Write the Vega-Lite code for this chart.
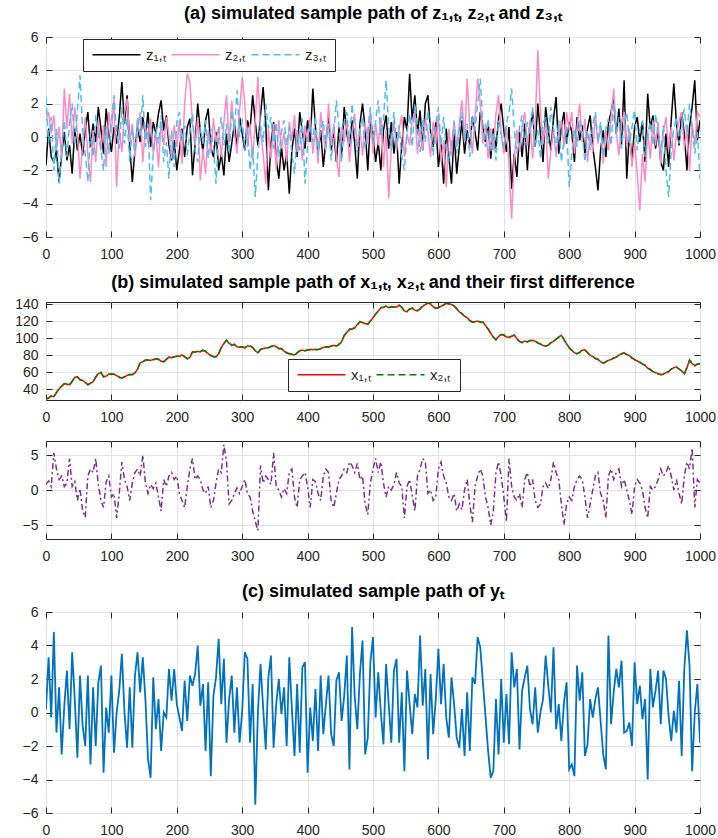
{
"$schema":"https://vega.github.io/schema/vega-lite/v6.json",
"padding":{"left":5,"top":4,"right":2,"bottom":0},
"spacing":18,
"resolve":{"scale":{"color":"independent","strokeDash":"independent"},"legend":{"color":"independent","strokeDash":"independent"}},
"config":{
 "font":"Liberation Sans",
 "view":{"stroke":"#262626","strokeWidth":1},
 "axis":{"domain":false,"gridColor":"#e2e2e2","gridWidth":1,"tickColor":"#262626","tickSize":-6,"labelFontSize":14,"labelColor":"#262626","title":null,"labelFont":"Liberation Sans"},
 "axisX":{"labelPadding":16,"labelFlush":false,"labelOverlap":false,"format":"d"},
 "axisY":{"labelPadding":14,"minExtent":40,"maxExtent":40,"labelOverlap":false},
 "title":{"fontSize":18,"fontWeight":"bold","color":"#000000","frame":"group","anchor":"middle","offset":7},
 "legend":{"title":null,"orient":"none","direction":"horizontal","fillColor":"white","strokeColor":"#262626","padding":8,"symbolType":"M-1,0H7","symbolSize":144,"symbolStrokeWidth":1.5,"labelFontSize":15,"labelColor":"#262626","labelOffset":40,"columnPadding":1}
},
"datasets":{"s":[
{"t":0,"a":-1.7,"b":1.0,"c":2.4,"x":28.5,"w":28.8,"d":0.8,"y":0.2},
{"t":4,"a":0.5,"b":1.5,"c":-0.3,"x":30.0,"w":29.6,"d":1.3,"y":3.3},
{"t":8,"a":-1.2,"b":0.2,"c":1.2,"x":32.0,"w":32.7,"d":0.5,"y":-0.3},
{"t":12,"a":-1.5,"b":1.3,"c":-2.0,"x":31.5,"w":31.0,"d":5.3,"y":4.8},
{"t":16,"a":-0.8,"b":-0.8,"c":0.5,"x":36.0,"w":36.4,"d":3.0,"y":-1.2},
{"t":20,"a":-2.7,"b":0.6,"c":-2.8,"x":40.5,"w":41.2,"d":1.5,"y":1.5},
{"t":24,"a":-1.0,"b":-1.3,"c":-0.6,"x":44.0,"w":43.5,"d":2.0,"y":-2.5},
{"t":28,"a":0.3,"b":2.9,"c":1.0,"x":46.5,"w":46.9,"d":0.5,"y":0.4},
{"t":32,"a":-1.4,"b":0.5,"c":-1.2,"x":46.0,"w":46.6,"d":1.0,"y":2.5},
{"t":36,"a":-0.5,"b":2.6,"c":0.8,"x":45.5,"w":45.0,"d":4.5,"y":-1.0},
{"t":40,"a":-2.2,"b":-0.4,"c":2.0,"x":49.0,"w":49.5,"d":0.5,"y":3.6},
{"t":44,"a":0.5,"b":1.8,"c":-0.5,"x":54.0,"w":54.7,"d":1.2,"y":0.8},
{"t":48,"a":-0.8,"b":0.3,"c":1.5,"x":55.0,"w":54.4,"d":-1.5,"y":-2.7},
{"t":52,"a":0.2,"b":-2.5,"c":3.7,"x":51.0,"w":51.6,"d":0.2,"y":2.2},
{"t":56,"a":-1.1,"b":-0.6,"c":0.4,"x":50.5,"w":50.2,"d":-3.0,"y":-0.8},
{"t":60,"a":0.4,"b":1.2,"c":-1.0,"x":48.0,"w":48.8,"d":-3.9,"y":-2.0},
{"t":64,"a":1.5,"b":-1.1,"c":-2.7,"x":45.5,"w":45.1,"d":2.0,"y":2.2},
{"t":68,"a":-0.6,"b":-2.7,"c":0.3,"x":47.0,"w":47.6,"d":3.0,"y":-3.1},
{"t":72,"a":0.8,"b":0.4,"c":-1.2,"x":49.0,"w":48.5,"d":2.5,"y":1.5},
{"t":76,"a":-0.3,"b":-1.5,"c":1.3,"x":54.0,"w":54.6,"d":4.5,"y":-2.0},
{"t":80,"a":1.8,"b":1.0,"c":0.2,"x":58.5,"w":58.9,"d":0.8,"y":1.8},
{"t":84,"a":0.5,"b":-0.8,"c":-0.8,"x":59.5,"w":60.2,"d":-1.5,"y":2.8},
{"t":88,"a":-1.0,"b":0.7,"c":-2.0,"x":55.0,"w":54.5,"d":-2.5,"y":-3.6},
{"t":92,"a":1.7,"b":-1.8,"c":0.6,"x":55.5,"w":56.1,"d":1.2,"y":0.3},
{"t":96,"a":0.2,"b":1.5,"c":-1.0,"x":58.0,"w":57.6,"d":2.0,"y":-1.2},
{"t":100,"a":-0.9,"b":0.2,"c":1.0,"x":57.5,"w":58.2,"d":-1.0,"y":2.2},
{"t":104,"a":0.6,"b":2.3,"c":2.5,"x":58.0,"w":57.5,"d":-0.5,"y":-2.4},
{"t":108,"a":-0.4,"b":-3.0,"c":0.2,"x":56.0,"w":56.6,"d":-4.0,"y":0.0},
{"t":112,"a":1.2,"b":0.5,"c":-0.7,"x":54.5,"w":54.0,"d":-0.5,"y":1.3},
{"t":116,"a":3.3,"b":-0.9,"c":1.8,"x":53.0,"w":53.7,"d":4.0,"y":3.5},
{"t":120,"a":0.8,"b":1.4,"c":-0.4,"x":54.5,"w":54.9,"d":1.5,"y":0.0},
{"t":124,"a":2.5,"b":2.3,"c":1.1,"x":56.5,"w":56.0,"d":0.5,"y":-2.1},
{"t":128,"a":-0.5,"b":-0.3,"c":-1.5,"x":57.0,"w":57.6,"d":-1.5,"y":1.5},
{"t":132,"a":-2.7,"b":0.8,"c":0.5,"x":57.5,"w":57.1,"d":1.0,"y":-2.1},
{"t":136,"a":-0.8,"b":-1.2,"c":-0.9,"x":59.0,"w":59.8,"d":2.5,"y":2.2},
{"t":140,"a":0.6,"b":0.3,"c":1.2,"x":64.0,"w":63.4,"d":3.0,"y":3.6},
{"t":144,"a":-0.3,"b":1.5,"c":0.0,"x":71.0,"w":71.6,"d":2.0,"y":1.2},
{"t":148,"a":1.2,"b":-1.5,"c":2.5,"x":72.5,"w":72.0,"d":5.0,"y":3.3},
{"t":152,"a":0.1,"b":0.6,"c":-0.6,"x":74.0,"w":74.7,"d":1.0,"y":0.8},
{"t":156,"a":1.5,"b":-0.4,"c":0.8,"x":74.5,"w":74.1,"d":-0.5,"y":-2.8},
{"t":160,"a":-0.6,"b":1.1,"c":-3.8,"x":74.0,"w":74.6,"d":0.8,"y":-3.9},
{"t":164,"a":0.9,"b":-1.0,"c":-1.0,"x":75.0,"w":74.5,"d":0.2,"y":2.1},
{"t":168,"a":0.2,"b":0.3,"c":0.6,"x":75.5,"w":76.1,"d":1.0,"y":-1.0},
{"t":172,"a":1.4,"b":-1.8,"c":-0.4,"x":75.5,"w":75.0,"d":-1.0,"y":0.8},
{"t":176,"a":2.2,"b":0.9,"c":1.3,"x":73.0,"w":73.7,"d":-3.0,"y":-2.3},
{"t":180,"a":0.4,"b":-0.5,"c":-1.5,"x":72.5,"w":72.1,"d":1.5,"y":0.0},
{"t":184,"a":1.3,"b":1.2,"c":-0.3,"x":75.0,"w":75.6,"d":0.5,"y":-0.3},
{"t":188,"a":-0.5,"b":0.1,"c":-2.5,"x":78.0,"w":77.4,"d":2.0,"y":2.6},
{"t":192,"a":-1.4,"b":-1.3,"c":0.4,"x":77.0,"w":77.7,"d":2.5,"y":0.7},
{"t":196,"a":-0.2,"b":0.7,"c":-1.8,"x":78.0,"w":78.4,"d":1.5,"y":2.6},
{"t":200,"a":-2.0,"b":-0.6,"c":0.9,"x":79.0,"w":78.5,"d":2.0,"y":0.5},
{"t":204,"a":-0.8,"b":1.0,"c":1.5,"x":78.5,"w":79.2,"d":-0.5,"y":-0.3},
{"t":208,"a":0.5,"b":-1.6,"c":-0.2,"x":80.5,"w":80.0,"d":-1.5,"y":-1.1},
{"t":212,"a":-1.2,"b":2.0,"c":0.7,"x":78.0,"w":78.6,"d":-2.5,"y":1.9},
{"t":216,"a":0.6,"b":3.8,"c":-1.1,"x":76.0,"w":75.6,"d":0.5,"y":-0.5},
{"t":220,"a":1.1,"b":3.3,"c":0.3,"x":77.5,"w":78.2,"d":3.0,"y":2.2},
{"t":224,"a":-2.3,"b":0.8,"c":1.4,"x":84.0,"w":83.5,"d":4.5,"y":1.6},
{"t":228,"a":-0.4,"b":-0.5,"c":-0.8,"x":83.5,"w":84.1,"d":1.5,"y":2.3},
{"t":232,"a":2.0,"b":1.2,"c":-1.5,"x":84.5,"w":84.0,"d":2.0,"y":4.0},
{"t":236,"a":0.3,"b":-2.6,"c":0.6,"x":84.0,"w":84.7,"d":1.5,"y":0.4},
{"t":240,"a":-0.9,"b":-0.7,"c":-0.4,"x":86.0,"w":85.5,"d":0.0,"y":1.7},
{"t":244,"a":1.0,"b":-2.2,"c":1.0,"x":84.5,"w":85.1,"d":-0.5,"y":-2.3},
{"t":248,"a":1.7,"b":0.4,"c":-1.3,"x":82.0,"w":81.6,"d":0.5,"y":1.8},
{"t":252,"a":-0.6,"b":-1.0,"c":0.5,"x":79.5,"w":80.2,"d":-2.5,"y":-3.8},
{"t":256,"a":-1.2,"b":1.1,"c":-0.6,"x":78.5,"w":78.0,"d":-1.5,"y":1.0},
{"t":260,"a":0.3,"b":-0.3,"c":-2.8,"x":78.0,"w":78.6,"d":1.0,"y":2.1},
{"t":264,"a":-2.0,"b":0.6,"c":0.2,"x":82.0,"w":81.5,"d":3.0,"y":4.4},
{"t":268,"a":-1.0,"b":-1.2,"c":1.2,"x":89.0,"w":89.7,"d":2.5,"y":0.5},
{"t":272,"a":-2.3,"b":0.9,"c":-0.5,"x":94.0,"w":93.4,"d":6.5,"y":3.2},
{"t":276,"a":0.2,"b":2.5,"c":0.8,"x":97.5,"w":97.9,"d":4.0,"y":-1.8},
{"t":280,"a":-1.5,"b":-0.4,"c":-1.0,"x":94.0,"w":94.7,"d":-2.0,"y":0.8},
{"t":284,"a":-0.4,"b":2.2,"c":1.6,"x":92.0,"w":91.5,"d":-1.5,"y":2.2},
{"t":288,"a":0.8,"b":0.3,"c":0.4,"x":92.5,"w":93.1,"d":-0.5,"y":-1.2},
{"t":292,"a":-0.6,"b":-1.0,"c":2.8,"x":90.0,"w":89.6,"d":0.3,"y":1.5},
{"t":296,"a":1.2,"b":1.6,"c":0.0,"x":89.5,"w":90.2,"d":-0.5,"y":-1.8},
{"t":300,"a":0.2,"b":3.6,"c":1.1,"x":90.0,"w":89.5,"d":0.5,"y":0.1},
{"t":304,"a":-0.8,"b":2.0,"c":-0.8,"x":88.5,"w":89.1,"d":1.5,"y":3.6},
{"t":308,"a":1.0,"b":-0.6,"c":0.5,"x":91.0,"w":90.5,"d":-0.5,"y":3.2},
{"t":312,"a":0.4,"b":0.8,"c":-2.0,"x":90.5,"w":91.2,"d":-1.0,"y":-1.8},
{"t":316,"a":2.5,"b":-1.4,"c":-0.6,"x":89.5,"w":89.0,"d":-3.0,"y":1.7},
{"t":320,"a":0.9,"b":1.0,"c":-3.6,"x":85.0,"w":85.6,"d":-4.5,"y":-5.5},
{"t":324,"a":-0.5,"b":3.6,"c":-1.0,"x":83.0,"w":82.5,"d":-5.8,"y":0.0},
{"t":328,"a":1.3,"b":0.4,"c":0.7,"x":86.5,"w":87.1,"d":3.5,"y":2.9},
{"t":332,"a":3.0,"b":-1.0,"c":-0.3,"x":88.0,"w":87.6,"d":1.0,"y":0.3},
{"t":336,"a":0.8,"b":-2.8,"c":2.0,"x":88.5,"w":89.2,"d":2.0,"y":-2.2},
{"t":340,"a":-3.2,"b":0.5,"c":0.5,"x":89.0,"w":88.5,"d":1.5,"y":2.1},
{"t":344,"a":-0.4,"b":-1.3,"c":1.2,"x":90.0,"w":90.6,"d":0.8,"y":3.4},
{"t":348,"a":0.9,"b":0.8,"c":-0.7,"x":91.5,"w":91.0,"d":5.3,"y":-2.1},
{"t":352,"a":-1.3,"b":-2.0,"c":0.9,"x":90.0,"w":90.7,"d":0.5,"y":0.5},
{"t":356,"a":-2.5,"b":1.0,"c":-1.2,"x":88.0,"w":87.6,"d":0.0,"y":2.0},
{"t":360,"a":-0.6,"b":-0.7,"c":0.3,"x":87.5,"w":88.1,"d":-1.0,"y":-0.1},
{"t":364,"a":-2.0,"b":0.3,"c":1.0,"x":85.0,"w":84.5,"d":0.2,"y":1.5},
{"t":368,"a":-1.0,"b":-1.5,"c":-0.5,"x":82.5,"w":83.2,"d":-0.5,"y":-2.0},
{"t":372,"a":-3.4,"b":0.9,"c":0.6,"x":82.0,"w":81.6,"d":2.5,"y":3.3},
{"t":376,"a":-0.8,"b":-0.2,"c":-1.0,"x":81.0,"w":81.7,"d":3.0,"y":0.2},
{"t":380,"a":0.5,"b":1.3,"c":-2.2,"x":80.5,"w":80.0,"d":-1.0,"y":-2.6},
{"t":384,"a":-1.2,"b":-0.9,"c":0.4,"x":82.5,"w":83.1,"d":-2.5,"y":1.7},
{"t":388,"a":1.5,"b":0.5,"c":-0.8,"x":85.5,"w":85.0,"d":1.5,"y":-2.4},
{"t":392,"a":0.3,"b":-1.4,"c":1.1,"x":86.0,"w":86.7,"d":2.0,"y":2.7},
{"t":396,"a":-0.7,"b":0.7,"c":-2.8,"x":85.5,"w":85.1,"d":2.5,"y":3.0},
{"t":400,"a":1.0,"b":-0.3,"c":-0.5,"x":86.0,"w":86.6,"d":0.5,"y":-3.6},
{"t":404,"a":-0.3,"b":1.2,"c":0.8,"x":87.0,"w":86.5,"d":-2.5,"y":0.3},
{"t":408,"a":2.9,"b":-1.0,"c":-0.3,"x":86.5,"w":87.2,"d":1.5,"y":-1.7},
{"t":412,"a":0.6,"b":0.4,"c":1.3,"x":87.0,"w":86.6,"d":1.2,"y":1.4},
{"t":416,"a":-1.0,"b":-1.6,"c":-1.1,"x":86.5,"w":87.1,"d":-0.5,"y":-2.3},
{"t":420,"a":0.4,"b":1.5,"c":0.5,"x":88.0,"w":87.5,"d":-1.5,"y":2.2},
{"t":424,"a":-1.8,"b":0.0,"c":1.0,"x":89.0,"w":89.7,"d":2.0,"y":-1.3},
{"t":428,"a":-0.2,"b":-0.8,"c":-0.6,"x":90.0,"w":89.6,"d":3.0,"y":0.5},
{"t":432,"a":1.2,"b":2.0,"c":0.8,"x":89.5,"w":90.1,"d":2.5,"y":2.2},
{"t":436,"a":-0.8,"b":-0.5,"c":-1.4,"x":91.0,"w":90.5,"d":-1.5,"y":-1.3},
{"t":440,"a":0.3,"b":0.8,"c":0.2,"x":91.5,"w":92.2,"d":-2.5,"y":-2.0},
{"t":444,"a":-1.5,"b":-1.2,"c":2.2,"x":91.0,"w":90.6,"d":-0.5,"y":1.9},
{"t":448,"a":0.6,"b":-2.4,"c":0.6,"x":92.5,"w":93.1,"d":1.5,"y":2.4},
{"t":452,"a":-1.2,"b":0.6,"c":-1.5,"x":96.0,"w":95.4,"d":2.0,"y":-0.5},
{"t":456,"a":1.8,"b":-0.3,"c":0.9,"x":103.0,"w":103.6,"d":3.0,"y":1.0},
{"t":460,"a":0.2,"b":1.1,"c":1.5,"x":107.0,"w":106.5,"d":2.5,"y":3.4},
{"t":464,"a":-0.6,"b":-1.5,"c":-0.4,"x":110.0,"w":110.7,"d":4.0,"y":-3.4},
{"t":468,"a":1.0,"b":0.2,"c":2.0,"x":111.0,"w":110.6,"d":3.5,"y":5.1},
{"t":472,"a":-0.4,"b":1.4,"c":0.3,"x":112.0,"w":112.6,"d":2.5,"y":1.0},
{"t":476,"a":-2.5,"b":-0.7,"c":-1.0,"x":116.0,"w":115.5,"d":3.8,"y":-1.0},
{"t":480,"a":0.8,"b":0.5,"c":0.5,"x":119.0,"w":119.7,"d":1.5,"y":2.3},
{"t":484,"a":2.0,"b":-1.1,"c":1.2,"x":118.5,"w":118.1,"d":2.0,"y":4.3},
{"t":488,"a":0.5,"b":0.9,"c":-0.7,"x":117.0,"w":117.6,"d":-2.0,"y":-2.5},
{"t":492,"a":-2.0,"b":-0.4,"c":0.4,"x":116.5,"w":116.0,"d":-3.5,"y":-1.5},
{"t":496,"a":1.0,"b":1.6,"c":1.8,"x":120.0,"w":120.7,"d":1.0,"y":3.0},
{"t":500,"a":0.2,"b":-1.0,"c":-0.3,"x":124.0,"w":123.5,"d":3.0,"y":4.5},
{"t":504,"a":-1.5,"b":0.8,"c":0.9,"x":128.0,"w":128.6,"d":4.5,"y":-0.3},
{"t":508,"a":-0.3,"b":-0.5,"c":2.2,"x":132.0,"w":131.5,"d":2.5,"y":2.4},
{"t":512,"a":-2.0,"b":1.2,"c":0.1,"x":135.5,"w":136.1,"d":4.0,"y":0.0},
{"t":516,"a":0.4,"b":-1.8,"c":1.0,"x":136.5,"w":136.0,"d":1.0,"y":-1.9},
{"t":520,"a":1.3,"b":0.4,"c":3.4,"x":137.5,"w":138.1,"d":-1.0,"y":2.9},
{"t":524,"a":-0.7,"b":-3.7,"c":0.6,"x":136.0,"w":135.6,"d":0.5,"y":0.5},
{"t":528,"a":0.9,"b":-0.6,"c":-0.8,"x":136.5,"w":137.2,"d":0.0,"y":-1.8},
{"t":532,"a":-1.0,"b":1.0,"c":1.5,"x":137.0,"w":136.5,"d":0.8,"y":2.5},
{"t":536,"a":0.3,"b":-0.8,"c":-0.5,"x":136.5,"w":137.1,"d":2.5,"y":3.2},
{"t":540,"a":-2.8,"b":0.5,"c":0.7,"x":139.0,"w":138.5,"d":1.0,"y":-1.8},
{"t":544,"a":-0.5,"b":1.3,"c":-1.2,"x":136.0,"w":136.6,"d":0.5,"y":1.2},
{"t":548,"a":1.2,"b":-1.2,"c":-2.0,"x":132.0,"w":131.6,"d":-4.0,"y":-3.5},
{"t":552,"a":0.4,"b":0.2,"c":0.3,"x":131.0,"w":131.7,"d":0.5,"y":2.5},
{"t":556,"a":3.8,"b":-0.5,"c":1.4,"x":134.5,"w":134.0,"d":1.5,"y":0.5},
{"t":560,"a":1.0,"b":1.0,"c":-0.6,"x":135.0,"w":135.6,"d":-0.8,"y":-1.3},
{"t":564,"a":2.5,"b":1.5,"c":2.0,"x":133.0,"w":132.5,"d":-3.0,"y":1.1},
{"t":568,"a":0.2,"b":-1.0,"c":0.5,"x":132.0,"w":132.7,"d":2.0,"y":0.3},
{"t":572,"a":1.6,"b":0.6,"c":-0.9,"x":134.5,"w":134.1,"d":3.0,"y":4.6},
{"t":576,"a":-0.8,"b":-0.8,"c":1.0,"x":137.5,"w":138.1,"d":4.5,"y":0.4},
{"t":580,"a":2.0,"b":1.1,"c":-0.3,"x":139.5,"w":139.0,"d":4.0,"y":2.6},
{"t":584,"a":2.5,"b":0.3,"c":1.6,"x":141.5,"w":141.9,"d":-0.5,"y":-2.8},
{"t":588,"a":0.3,"b":-1.2,"c":0.2,"x":140.0,"w":140.6,"d":0.0,"y":2.3},
{"t":592,"a":-0.6,"b":0.9,"c":-1.1,"x":137.0,"w":136.5,"d":-1.5,"y":-1.3},
{"t":596,"a":0.9,"b":-0.4,"c":0.8,"x":135.0,"w":135.7,"d":-1.0,"y":0.8},
{"t":600,"a":-1.8,"b":1.3,"c":1.8,"x":136.0,"w":135.6,"d":3.0,"y":3.8},
{"t":604,"a":-0.4,"b":-1.5,"c":-0.5,"x":137.5,"w":138.1,"d":4.0,"y":0.5},
{"t":608,"a":-2.8,"b":-0.2,"c":1.2,"x":139.0,"w":138.5,"d":2.0,"y":2.9},
{"t":612,"a":0.5,"b":-3.0,"c":-0.8,"x":141.0,"w":141.6,"d":1.0,"y":-0.3},
{"t":616,"a":-1.2,"b":0.5,"c":-1.5,"x":140.5,"w":140.0,"d":-1.0,"y":-1.5},
{"t":620,"a":-2.8,"b":-1.1,"c":-0.4,"x":139.5,"w":140.1,"d":-1.5,"y":2.1},
{"t":624,"a":0.2,"b":1.0,"c":0.9,"x":138.0,"w":137.6,"d":-0.5,"y":0.5},
{"t":628,"a":-2.2,"b":-0.6,"c":-1.0,"x":134.5,"w":135.1,"d":-3.0,"y":-1.5},
{"t":632,"a":-0.6,"b":0.8,"c":0.6,"x":131.0,"w":130.5,"d":-2.0,"y":-2.1},
{"t":636,"a":1.0,"b":2.2,"c":1.5,"x":128.5,"w":129.2,"d":-2.8,"y":0.2},
{"t":640,"a":-1.0,"b":-0.3,"c":-0.2,"x":126.0,"w":125.6,"d":0.0,"y":-2.6},
{"t":644,"a":0.4,"b":3.5,"c":0.8,"x":124.0,"w":124.7,"d":1.5,"y":1.2},
{"t":648,"a":-0.5,"b":0.6,"c":-1.2,"x":121.0,"w":120.5,"d":-2.0,"y":-2.3},
{"t":652,"a":1.2,"b":-1.0,"c":1.3,"x":118.5,"w":119.1,"d":-4.6,"y":2.1},
{"t":656,"a":0.3,"b":1.2,"c":0.4,"x":119.5,"w":119.0,"d":0.5,"y":1.7},
{"t":660,"a":-0.8,"b":3.5,"c":2.0,"x":120.0,"w":120.6,"d":2.0,"y":4.5},
{"t":664,"a":1.5,"b":2.0,"c":3.5,"x":119.0,"w":118.6,"d":3.0,"y":3.9},
{"t":668,"a":0.6,"b":-0.4,"c":0.7,"x":118.5,"w":119.2,"d":2.0,"y":1.8},
{"t":672,"a":-0.3,"b":0.8,"c":-0.6,"x":115.0,"w":114.5,"d":-1.0,"y":-0.2},
{"t":676,"a":0.9,"b":-1.3,"c":1.1,"x":110.5,"w":111.1,"d":-2.5,"y":-2.3},
{"t":680,"a":-1.3,"b":0.5,"c":-0.9,"x":106.0,"w":105.5,"d":-5.0,"y":-3.9},
{"t":684,"a":0.5,"b":-0.8,"c":0.3,"x":101.0,"w":101.6,"d":-3.0,"y":-3.5},
{"t":688,"a":-0.7,"b":1.4,"c":-1.4,"x":98.5,"w":98.0,"d":2.5,"y":0.8},
{"t":692,"a":1.1,"b":2.5,"c":1.0,"x":102.0,"w":102.7,"d":4.0,"y":-2.5},
{"t":696,"a":2.0,"b":0.2,"c":0.2,"x":104.5,"w":104.0,"d":2.0,"y":2.0},
{"t":700,"a":0.4,"b":-1.0,"c":-0.7,"x":103.5,"w":104.1,"d":-1.0,"y":-1.8},
{"t":704,"a":-0.9,"b":0.7,"c":0.8,"x":101.5,"w":101.0,"d":-4.5,"y":1.1},
{"t":708,"a":0.6,"b":-1.8,"c":1.5,"x":101.0,"w":101.6,"d":4.5,"y":-1.9},
{"t":712,"a":-3.1,"b":-4.9,"c":2.9,"x":102.5,"w":102.0,"d":0.5,"y":3.6},
{"t":716,"a":-1.0,"b":-1.2,"c":0.4,"x":103.5,"w":104.1,"d":-1.0,"y":1.5},
{"t":720,"a":-2.4,"b":0.4,"c":-1.0,"x":99.5,"w":99.0,"d":-1.5,"y":2.6},
{"t":724,"a":0.3,"b":-0.9,"c":0.6,"x":96.0,"w":96.6,"d":-0.5,"y":-2.2},
{"t":728,"a":-1.2,"b":0.6,"c":1.3,"x":95.0,"w":94.6,"d":-2.5,"y":1.3},
{"t":732,"a":0.8,"b":1.5,"c":-0.5,"x":96.5,"w":97.1,"d":1.5,"y":2.1},
{"t":736,"a":-2.0,"b":-0.5,"c":0.9,"x":96.0,"w":95.5,"d":2.5,"y":2.8},
{"t":740,"a":0.5,"b":1.0,"c":0.2,"x":97.0,"w":97.6,"d":0.5,"y":0.2},
{"t":744,"a":1.5,"b":-1.3,"c":1.8,"x":97.5,"w":97.0,"d":1.5,"y":-0.7},
{"t":748,"a":-0.6,"b":0.8,"c":-0.6,"x":96.5,"w":97.1,"d":-1.5,"y":1.5},
{"t":752,"a":2.0,"b":5.2,"c":0.4,"x":94.5,"w":94.0,"d":-2.5,"y":-1.2},
{"t":756,"a":0.2,"b":1.5,"c":-1.3,"x":93.0,"w":93.6,"d":-2.0,"y":0.0},
{"t":760,"a":-1.5,"b":-0.4,"c":0.8,"x":91.5,"w":91.0,"d":0.5,"y":0.8},
{"t":764,"a":1.8,"b":0.9,"c":1.2,"x":90.5,"w":91.1,"d":1.0,"y":3.4},
{"t":768,"a":0.4,"b":-2.5,"c":-0.4,"x":92.0,"w":91.6,"d":0.2,"y":1.6},
{"t":772,"a":-0.8,"b":-0.8,"c":1.8,"x":94.5,"w":95.1,"d":1.5,"y":0.0},
{"t":776,"a":1.1,"b":0.5,"c":0.5,"x":96.5,"w":96.0,"d":4.0,"y":3.9},
{"t":780,"a":2.4,"b":-1.2,"c":-0.8,"x":98.5,"w":99.1,"d":2.5,"y":-1.0},
{"t":784,"a":-1.0,"b":0.3,"c":1.0,"x":101.5,"w":101.0,"d":1.5,"y":0.5},
{"t":788,"a":0.6,"b":1.0,"c":-1.5,"x":103.5,"w":104.1,"d":-2.0,"y":-1.7},
{"t":792,"a":1.5,"b":-0.6,"c":-0.2,"x":98.5,"w":98.0,"d":-5.0,"y":0.6},
{"t":796,"a":-0.4,"b":1.5,"c":0.6,"x":93.5,"w":94.1,"d":-2.0,"y":1.8},
{"t":800,"a":0.9,"b":0.4,"c":-3.0,"x":89.0,"w":88.5,"d":-1.0,"y":-3.4},
{"t":804,"a":0.3,"b":1.5,"c":-1.0,"x":85.5,"w":86.1,"d":-1.5,"y":-3.1},
{"t":808,"a":-1.5,"b":-1.0,"c":0.5,"x":83.0,"w":82.6,"d":0.5,"y":-3.8},
{"t":812,"a":1.2,"b":0.6,"c":-0.6,"x":81.5,"w":82.1,"d":1.5,"y":2.8},
{"t":816,"a":-0.2,"b":2.0,"c":1.0,"x":83.5,"w":83.0,"d":2.0,"y":0.7},
{"t":820,"a":0.7,"b":-0.3,"c":0.2,"x":86.0,"w":86.6,"d":1.5,"y":2.4},
{"t":824,"a":-1.0,"b":1.1,"c":-1.5,"x":86.5,"w":86.0,"d":-1.0,"y":-2.6},
{"t":828,"a":0.5,"b":-1.5,"c":0.4,"x":83.0,"w":83.6,"d":-4.0,"y":-1.9},
{"t":832,"a":1.3,"b":0.2,"c":-0.8,"x":80.0,"w":79.5,"d":-2.0,"y":0.8},
{"t":836,"a":-0.6,"b":-0.9,"c":0.7,"x":78.5,"w":79.1,"d":0.0,"y":-0.3},
{"t":840,"a":-1.8,"b":1.3,"c":1.5,"x":76.5,"w":76.0,"d":2.0,"y":0.8},
{"t":844,"a":-3.2,"b":-0.4,"c":-0.3,"x":75.0,"w":75.6,"d":2.5,"y":1.5},
{"t":848,"a":-0.8,"b":0.7,"c":0.9,"x":72.5,"w":72.1,"d":-0.5,"y":-0.5},
{"t":852,"a":0.4,"b":-1.6,"c":-1.2,"x":70.5,"w":71.1,"d":-1.5,"y":-2.5},
{"t":856,"a":-1.2,"b":0.4,"c":0.5,"x":72.5,"w":72.0,"d":-4.0,"y":-3.4},
{"t":860,"a":0.8,"b":-0.8,"c":1.1,"x":74.0,"w":74.6,"d":2.0,"y":4.6},
{"t":864,"a":1.5,"b":1.2,"c":-0.5,"x":75.0,"w":74.5,"d":3.0,"y":-0.7},
{"t":868,"a":2.3,"b":2.9,"c":2.0,"x":76.5,"w":77.1,"d":1.5,"y":1.2},
{"t":872,"a":0.2,"b":0.3,"c":0.3,"x":78.0,"w":77.6,"d":2.5,"y":2.6},
{"t":876,"a":1.7,"b":-1.1,"c":1.2,"x":80.0,"w":80.6,"d":3.0,"y":1.5},
{"t":880,"a":-0.5,"b":0.8,"c":-0.7,"x":82.0,"w":81.5,"d":0.5,"y":3.1},
{"t":884,"a":3.4,"b":1.5,"c":0.8,"x":82.5,"w":83.1,"d":1.5,"y":-1.2},
{"t":888,"a":-2.5,"b":-0.6,"c":1.5,"x":81.0,"w":80.6,"d":0.0,"y":-1.1},
{"t":892,"a":0.3,"b":0.5,"c":-0.4,"x":79.5,"w":80.1,"d":-1.5,"y":-0.6},
{"t":896,"a":-1.4,"b":-1.8,"c":0.6,"x":77.0,"w":76.5,"d":-3.5,"y":-2.0},
{"t":900,"a":0.6,"b":-0.3,"c":1.6,"x":74.5,"w":75.1,"d":0.5,"y":3.0},
{"t":904,"a":1.2,"b":-2.2,"c":-0.8,"x":73.5,"w":73.0,"d":1.5,"y":0.5},
{"t":908,"a":-0.3,"b":-4.4,"c":0.4,"x":71.5,"w":72.1,"d":1.0,"y":1.6},
{"t":912,"a":0.9,"b":-1.0,"c":1.0,"x":70.0,"w":69.6,"d":0.0,"y":-0.4},
{"t":916,"a":-1.5,"b":-2.7,"c":-1.2,"x":68.0,"w":68.6,"d":-2.5,"y":0.8},
{"t":920,"a":2.6,"b":0.4,"c":0.2,"x":65.0,"w":64.5,"d":-4.0,"y":-4.0},
{"t":924,"a":0.5,"b":-1.3,"c":0.9,"x":63.0,"w":63.6,"d":0.5,"y":2.6},
{"t":928,"a":1.3,"b":1.0,"c":-0.5,"x":61.0,"w":60.6,"d":0.0,"y":0.3},
{"t":932,"a":-0.7,"b":-0.5,"c":1.4,"x":59.5,"w":60.1,"d":0.5,"y":1.3},
{"t":936,"a":0.4,"b":0.9,"c":0.3,"x":58.5,"w":58.0,"d":1.5,"y":2.5},
{"t":940,"a":-1.5,"b":-1.6,"c":-1.0,"x":57.0,"w":57.6,"d":3.0,"y":-0.7},
{"t":944,"a":-2.0,"b":0.3,"c":0.7,"x":58.0,"w":57.5,"d":2.0,"y":2.5},
{"t":948,"a":0.2,"b":1.2,"c":-2.0,"x":59.5,"w":60.1,"d":2.5,"y":2.0},
{"t":952,"a":-1.8,"b":-0.8,"c":-3.6,"x":61.0,"w":60.5,"d":3.5,"y":-0.2},
{"t":956,"a":1.0,"b":0.6,"c":-0.8,"x":63.5,"w":64.1,"d":2.0,"y":-1.7},
{"t":960,"a":3.2,"b":-1.4,"c":0.5,"x":65.5,"w":65.0,"d":0.0,"y":0.1},
{"t":964,"a":0.8,"b":0.2,"c":1.2,"x":66.0,"w":66.6,"d":1.5,"y":-1.2},
{"t":968,"a":-0.5,"b":1.0,"c":-0.4,"x":64.0,"w":63.6,"d":-0.5,"y":1.9},
{"t":972,"a":1.5,"b":1.5,"c":0.8,"x":61.5,"w":62.1,"d":-2.0,"y":-2.6},
{"t":976,"a":0.2,"b":-0.7,"c":1.7,"x":58.5,"w":58.0,"d":2.0,"y":2.6},
{"t":980,"a":-2.0,"b":0.4,"c":0.2,"x":65.0,"w":65.6,"d":4.0,"y":4.9},
{"t":984,"a":0.6,"b":-2.0,"c":2.0,"x":74.5,"w":74.0,"d":3.0,"y":2.8},
{"t":988,"a":1.8,"b":0.8,"c":0.6,"x":70.0,"w":70.6,"d":6.0,"y":-3.5},
{"t":992,"a":3.4,"b":-0.5,"c":-1.0,"x":68.0,"w":67.5,"d":-2.5,"y":0.0},
{"t":996,"a":-0.2,"b":1.5,"c":0.3,"x":69.5,"w":70.1,"d":1.5,"y":1.7},
{"t":1000,"a":1.0,"b":1.2,"c":-2.5,"x":70.0,"w":69.6,"d":1.0,"y":-1.8}
]},
"vconcat":[
{
"spacing":11,
"resolve":{"scale":{"color":"independent","strokeDash":"independent"},"legend":{"color":"independent","strokeDash":"independent"}},
"vconcat":[
{
 "data":{"name":"s"},
 "width":654,"height":200,
 "title":{"text":"(a) simulated sample path of z₁,ₜ, z₂,ₜ and z₃,ₜ"},
 "layer":[
  {"transform":[{"fold":["a","b","c"],"as":["k","v"]}],
   "mark":{"type":"line","strokeWidth":1.5,"clip":true},
   "encoding":{
    "x":{"field":"t","type":"quantitative","scale":{"domain":[0,1000],"nice":false,"zero":false},"axis":{"values":[0,100,200,300,400,500,600,700,800,900,1000]}},
    "y":{"field":"v","type":"quantitative","scale":{"domain":[-6,6],"nice":false},"axis":{"values":[-6,-4,-2,0,2,4,6]}},
    "color":{"field":"k","type":"nominal","scale":{"domain":["a","b","c"],"range":["#000000","#FF8AC4","#4DBEEE"]},"legend":{"legendX":37,"legendY":2,"labelExpr":"datum.label=='a'?'z₁,ₜ':datum.label=='b'?'z₂,ₜ':'z₃,ₜ'"}},
    "strokeDash":{"field":"k","type":"nominal","scale":{"domain":["a","b","c"],"range":[[1,0],[1,0],[7,4]]},"legend":{"legendX":37,"legendY":2,"labelExpr":"datum.label=='a'?'z₁,ₜ':datum.label=='b'?'z₂,ₜ':'z₃,ₜ'"}}
   }},
  {"mark":{"type":"point","opacity":0},
   "encoding":{
    "x":{"field":"t","type":"quantitative","scale":{"domain":[0,1000],"nice":false,"zero":false},"axis":{"orient":"top","labels":false,"grid":false,"values":[0,100,200,300,400,500,600,700,800,900,1000],"minExtent":0,"maxExtent":0}},
    "y":{"field":"a","type":"quantitative","scale":{"domain":[-6,6],"nice":false},"axis":{"orient":"right","labels":false,"grid":false,"values":[-6,-4,-2,0,2,4,6],"minExtent":0,"maxExtent":0}}
   }}
 ],
 "resolve":{"axis":{"x":"independent","y":"independent"}}
},
{
"spacing":15,
"resolve":{"scale":{"color":"independent","strokeDash":"independent"},"legend":{"color":"independent","strokeDash":"independent"}},
"vconcat":[
{
 "data":{"name":"s"},
 "width":654,"height":98,
 "title":{"text":"(b) simulated sample path of x₁,ₜ, x₂,ₜ and their first difference","offset":5},
 "layer":[
  {"transform":[{"fold":["x","w"],"as":["k","v"]}],
   "mark":{"type":"line","strokeWidth":1.5,"clip":true},
   "encoding":{
    "x":{"field":"t","type":"quantitative","scale":{"domain":[0,1000],"nice":false,"zero":false},"axis":{"values":[0,100,200,300,400,500,600,700,800,900,1000]}},
    "y":{"field":"v","type":"quantitative","scale":{"domain":[27.5,142.5],"nice":false,"zero":false},"axis":{"values":[40,60,80,100,120,140]}},
    "color":{"field":"k","type":"nominal","scale":{"domain":["x","w"],"range":["#FF0000","#008000"]},"legend":{"legendX":242,"legendY":57,"labelExpr":"datum.label=='x'?'x₁,ₜ':'x₂,ₜ'"}},
    "strokeDash":{"field":"k","type":"nominal","scale":{"domain":["x","w"],"range":[[1,0],[7,4]]},"legend":{"legendX":242,"legendY":57,"labelExpr":"datum.label=='x'?'x₁,ₜ':'x₂,ₜ'"}}
   }},
  {"mark":{"type":"point","opacity":0},
   "encoding":{
    "x":{"field":"t","type":"quantitative","scale":{"domain":[0,1000],"nice":false,"zero":false},"axis":{"orient":"top","labels":false,"grid":false,"values":[0,100,200,300,400,500,600,700,800,900,1000],"minExtent":0,"maxExtent":0}},
    "y":{"field":"x","type":"quantitative","scale":{"domain":[27.5,142.5],"nice":false,"zero":false},"axis":{"orient":"right","labels":false,"grid":false,"values":[40,60,80,100,120,140],"minExtent":0,"maxExtent":0}}
   }}
 ],
 "resolve":{"axis":{"x":"independent","y":"independent"}}
},
{
 "data":{"name":"s"},
 "width":654,"height":98,
 "layer":[
  {"mark":{"type":"line","strokeWidth":1.5,"color":"#7E2F8E","strokeDash":[6,3,2,3],"clip":true},
   "encoding":{
    "x":{"field":"t","type":"quantitative","scale":{"domain":[0,1000],"nice":false,"zero":false},"axis":{"values":[0,100,200,300,400,500,600,700,800,900,1000]}},
    "y":{"field":"d","type":"quantitative","scale":{"domain":[-7,7],"nice":false},"axis":{"values":[-5,0,5]}}
   }},
  {"mark":{"type":"point","opacity":0},
   "encoding":{
    "x":{"field":"t","type":"quantitative","scale":{"domain":[0,1000],"nice":false,"zero":false},"axis":{"orient":"top","labels":false,"grid":false,"values":[0,100,200,300,400,500,600,700,800,900,1000],"minExtent":0,"maxExtent":0}},
    "y":{"field":"d","type":"quantitative","scale":{"domain":[-7,7],"nice":false},"axis":{"orient":"right","labels":false,"grid":false,"values":[-5,0,5],"minExtent":0,"maxExtent":0}}
   }}
 ],
 "resolve":{"axis":{"x":"independent","y":"independent"}}
}
]
}
]
},
{
 "data":{"name":"s"},
 "width":654,"height":201,
 "title":{"text":"(c) simulated sample path of yₜ","offset":4},
 "layer":[
  {"mark":{"type":"line","strokeWidth":1.8,"color":"#0072BD","clip":true},
   "encoding":{
    "x":{"field":"t","type":"quantitative","scale":{"domain":[0,1000],"nice":false,"zero":false},"axis":{"values":[0,100,200,300,400,500,600,700,800,900,1000]}},
    "y":{"field":"y","type":"quantitative","scale":{"domain":[-6,6],"nice":false},"axis":{"values":[-6,-4,-2,0,2,4,6]}}
   }},
  {"mark":{"type":"point","opacity":0},
   "encoding":{
    "x":{"field":"t","type":"quantitative","scale":{"domain":[0,1000],"nice":false,"zero":false},"axis":{"orient":"top","labels":false,"grid":false,"values":[0,100,200,300,400,500,600,700,800,900,1000],"minExtent":0,"maxExtent":0}},
    "y":{"field":"y","type":"quantitative","scale":{"domain":[-6,6],"nice":false},"axis":{"orient":"right","labels":false,"grid":false,"values":[-6,-4,-2,0,2,4,6],"minExtent":0,"maxExtent":0}}
   }}
 ],
 "resolve":{"axis":{"x":"independent","y":"independent"}}
}
]
}
